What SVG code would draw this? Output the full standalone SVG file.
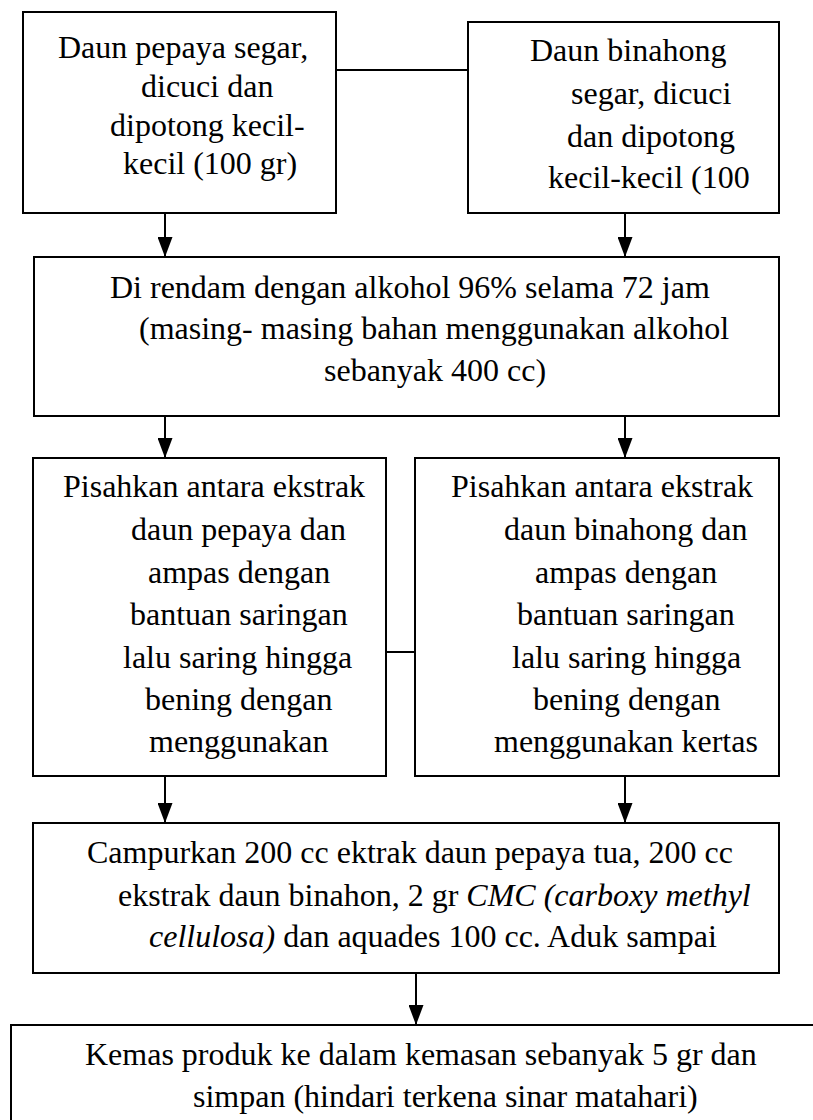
<svg xmlns="http://www.w3.org/2000/svg" width="813" height="1120" viewBox="0 0 813 1120">
<style>
.box{fill:#fff;stroke:#000;stroke-width:2}
.t{font-family:"Liberation Serif","Times New Roman",serif;font-size:32px;fill:#000}
.i{font-style:italic}
.c{stroke:#000;stroke-width:2;fill:none}
</style>
<defs>
<marker id="ah" viewBox="0 0 20 15" refX="20" refY="7.5" markerWidth="20" markerHeight="15" markerUnits="userSpaceOnUse" orient="auto">
<path d="M0,0 L20,7.5 L0,15 z" fill="#000"/>
</marker>
</defs>
<rect width="813" height="1120" fill="#fff"/>
<g id="connectors">
<line class="c" x1="336" y1="70" x2="468" y2="70"/>
<line class="c" x1="165" y1="213" x2="165" y2="257" marker-end="url(#ah)"/>
<line class="c" x1="625" y1="213" x2="625" y2="257" marker-end="url(#ah)"/>
<line class="c" x1="165" y1="416" x2="165" y2="458" marker-end="url(#ah)"/>
<line class="c" x1="625" y1="416" x2="625" y2="458" marker-end="url(#ah)"/>
<line class="c" x1="386" y1="652" x2="415" y2="652"/>
<line class="c" x1="165" y1="776" x2="165" y2="823" marker-end="url(#ah)"/>
<line class="c" x1="625" y1="776" x2="625" y2="823" marker-end="url(#ah)"/>
<line class="c" x1="416" y1="973" x2="416" y2="1025" marker-end="url(#ah)"/>
</g>
<g id="node1">
<rect class="box" x="23" y="12" width="313" height="201"/>
<text class="t" x="58" y="58">Daun pepaya segar,</text>
<text class="t" x="141" y="97">dicuci dan</text>
<text class="t" x="110" y="136">dipotong kecil-</text>
<text class="t" x="123" y="174">kecil (100 gr)</text>
</g>
<g id="node2">
<rect class="box" x="468" y="22" width="311" height="191"/>
<text class="t" x="530" y="61">Daun binahong</text>
<text class="t" x="571" y="104">segar, dicuci</text>
<text class="t" x="567" y="147">dan dipotong</text>
<text class="t" x="548" y="188">kecil-kecil (100</text>
</g>
<g id="node3">
<rect class="box" x="34" y="257" width="745" height="159"/>
<text class="t" x="110" y="298">Di rendam dengan alkohol 96% selama 72 jam</text>
<text class="t" x="139" y="339">(masing- masing bahan menggunakan alkohol</text>
<text class="t" x="324" y="381">sebanyak 400 cc)</text>
</g>
<g id="node4">
<rect class="box" x="33" y="458" width="353" height="318"/>
<text class="t" x="63" y="497">Pisahkan antara ekstrak</text>
<text class="t" x="131" y="540">daun pepaya dan</text>
<text class="t" x="148" y="583">ampas dengan</text>
<text class="t" x="130" y="625">bantuan saringan</text>
<text class="t" x="123" y="668">lalu saring hingga</text>
<text class="t" x="145" y="710">bening dengan</text>
<text class="t" x="149" y="752">menggunakan</text>
</g>
<g id="node5">
<rect class="box" x="415" y="458" width="364" height="318"/>
<text class="t" x="451" y="497">Pisahkan antara ekstrak</text>
<text class="t" x="504" y="540">daun binahong dan</text>
<text class="t" x="535" y="583">ampas dengan</text>
<text class="t" x="517" y="625">bantuan saringan</text>
<text class="t" x="512" y="668">lalu saring hingga</text>
<text class="t" x="533" y="710">bening dengan</text>
<text class="t" x="494" y="752">menggunakan kertas</text>
</g>
<g id="node6">
<rect class="box" x="33" y="823" width="746" height="150"/>
<text class="t" x="87" y="863">Campurkan 200 cc ektrak daun pepaya tua, 200 cc</text>
<text class="t" x="118" y="906">ekstrak daun binahon, 2 gr <tspan class="i">CMC (carboxy methyl</tspan></text>
<text class="t" x="149" y="947"><tspan class="i">cellulosa)</tspan> dan aquades 100 cc. Aduk sampai</text>
</g>
<g id="node7">
<rect class="box" x="11" y="1025" width="900" height="200"/>
<text class="t" x="85" y="1065">Kemas produk ke dalam kemasan sebanyak 5 gr dan</text>
<text class="t" x="193" y="1107">simpan (hindari terkena sinar matahari)</text>
</g>
</svg>
